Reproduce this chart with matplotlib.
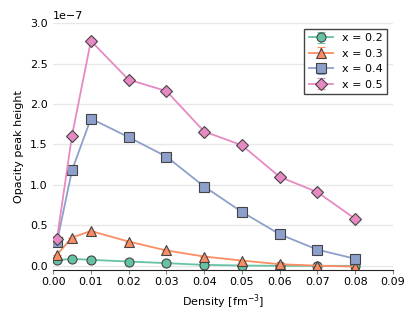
import matplotlib
matplotlib.use('Agg')
import matplotlib.pyplot as plt
import numpy as np

density = [0.001, 0.005, 0.01, 0.02, 0.03, 0.04, 0.05, 0.06, 0.07, 0.08]
peak_x02 = [0.07, 0.086, 0.074, 0.053, 0.033, 0.012, 0.004, 0.0, 0.0, 0.0]
peak_x03 = [0.136, 0.35, 0.43, 0.30, 0.19, 0.115, 0.065, 0.02, 0.002, -0.01]
peak_x04 = [0.29, 1.18, 1.82, 1.59, 1.35, 0.98, 0.666, 0.39, 0.20, 0.087]
peak_x05 = [0.33, 1.61, 2.78, 2.30, 2.16, 1.66, 1.49, 1.10, 0.91, 0.58]
labels = ['x = 0.2', 'x = 0.3', 'x = 0.4', 'x = 0.5']

series = [peak_x02, peak_x03, peak_x04, peak_x05]
colors = ['#66c2a5', '#fc8d62', '#8da0cb', '#e78ac3']
markers = ['o', '^', 's', 'D']

plt.rcParams['font.size'] = 8
fig = plt.figure(figsize=(4.15, 3.12), dpi=100)
ax = fig.add_axes([0.128, 0.135, 0.819, 0.791])

for vals, c, m, lab in zip(series, colors, markers, labels):
    y = np.array(vals) * 1e-7
    ax.errorbar(density, y, yerr=np.zeros(len(y)), color=c, marker=m,
                markersize=6.5, markeredgecolor='#444444', markeredgewidth=0.8,
                linewidth=1.3, capsize=3, label=lab)

ax.set_xlim(0, 0.09)
ax.set_ylim(-0.05e-7, 3.0e-7)
ax.set_xticks(np.arange(0, 0.0901, 0.01))
ax.set_yticks(np.arange(0, 3.01e-7, 0.5e-7))
ax.set_xlabel('Density [fm$^{-3}$]')
ax.set_ylabel('Opacity peak height')

ax.grid(axis='y', color='#e8e8e8', linewidth=1)
ax.set_axisbelow(True)
for s in ['top', 'right', 'left']:
    ax.spines[s].set_visible(False)
ax.spines['bottom'].set_color('#222222')
ax.tick_params(axis='y', length=0, pad=4)
ax.tick_params(axis='x', length=3, color='#888888', pad=2)

leg = ax.legend(loc='upper right', fancybox=False, edgecolor='#444444',
                framealpha=1, borderpad=0.4, handlelength=2.2)
leg.get_frame().set_linewidth(1)

fig.savefig('out.png', dpi=100)
